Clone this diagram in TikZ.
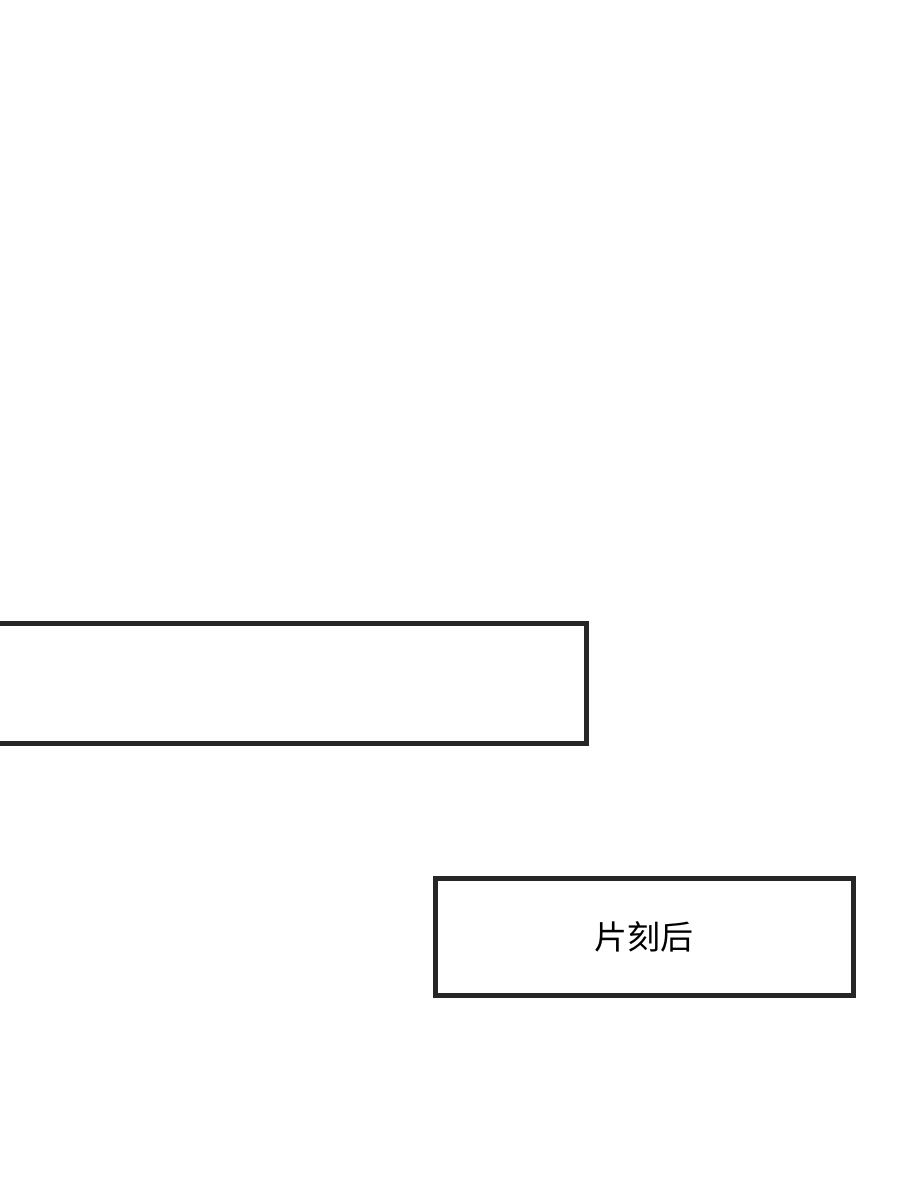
\documentclass[tikz,border=0pt]{standalone}
\usepackage{fontspec}
\newfontfamily\cjk{Noto Sans CJK SC}
\begin{document}
\begin{tikzpicture}[x=1pt,y=-1pt]
\tikzset{panel/.style={draw=black!85,line width=5pt,fill=white}}
\useasboundingbox (0,0) rectangle (900,1196);
\node[panel,minimum width=607pt,minimum height=120pt,inner sep=0pt] (top) at (282.5,683.5) {};
\node[panel,minimum width=418pt,minimum height=117pt,inner sep=0pt,font=\cjk\fontsize{33}{38}\selectfont] (cap) at (644,936.5) {片刻后};
\end{tikzpicture}
\end{document}
